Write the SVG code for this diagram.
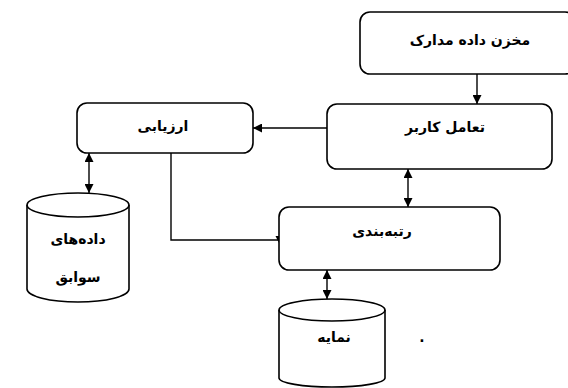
<svg xmlns="http://www.w3.org/2000/svg" width="568" height="388" viewBox="0 0 568 388">
<style>
.box{fill:#fff;stroke:#000;stroke-width:1.6}
.ln{fill:none;stroke:#000;stroke-width:1.4}
.t{font-family:"DejaVu Sans",sans-serif;font-size:14px;font-weight:bold;fill:#000;text-anchor:middle;dominant-baseline:middle}
</style>
<defs>
<marker id="ah" viewBox="0 0 10 10" refX="10" refY="5" markerWidth="10" markerHeight="9" markerUnits="userSpaceOnUse" orient="auto-start-reverse">
<path d="M0,0 L10,5 L0,10 Z" fill="#000"/>
</marker>
</defs>
<rect width="568" height="388" fill="#fff"/>
<g id="connectors">
<line class="ln" x1="477" y1="74" x2="477" y2="104" marker-end="url(#ah)"/>
<line class="ln" x1="327" y1="128" x2="253" y2="128" marker-end="url(#ah)"/>
<line class="ln" x1="89" y1="153" x2="89" y2="193" marker-start="url(#ah)" marker-end="url(#ah)"/>
<polyline class="ln" points="171,153 171,240 280,240"/>
<path d="M275.5,236 L284.5,236 L280,245 Z" fill="#000"/>
<line class="ln" x1="408" y1="169" x2="408" y2="207" marker-start="url(#ah)" marker-end="url(#ah)"/>
<line class="ln" x1="327" y1="270" x2="327" y2="299" marker-start="url(#ah)" marker-end="url(#ah)"/>
</g>
<g id="n-archive">
<rect class="box" x="360" y="12" width="215" height="62" rx="10"/>
<text class="t" x="470" y="41">مخزن داده مدارک</text>
</g>
<g id="n-user">
<rect class="box" x="327" y="104" width="225" height="65" rx="10"/>
<text class="t" x="445" y="128">تعامل کاربر</text>
</g>
<g id="n-eval">
<rect class="box" x="77" y="103" width="176" height="50" rx="10"/>
<text class="t" x="163" y="127">ارزیابی</text>
</g>
<g id="n-rank">
<rect class="box" x="279" y="207" width="221" height="63" rx="10"/>
<text class="t" x="382" y="232">رتبه‌بندی</text>
</g>
<g id="n-history">
<path class="box" d="M27,205 L27,289 A51,13 0 0 0 129,289 L129,205 A51,12 0 0 0 27,205 Z"/>
<path class="ln" d="M27,205 A51,12 0 0 0 129,205"/>
<text class="t" x="78" y="240">داده‌های</text>
<text class="t" x="78" y="278">سوابق</text>
</g>
<g id="n-index">
<path class="box" d="M279,310 L279,378 A53,9 0 0 0 385,378 L385,310 A53,11 0 0 0 279,310 Z"/>
<path class="ln" d="M279,310 A53,11 0 0 0 385,310"/>
<text class="t" x="334" y="338">نمایه</text>
</g>
<text class="t" x="422" y="338">.</text>
</svg>
